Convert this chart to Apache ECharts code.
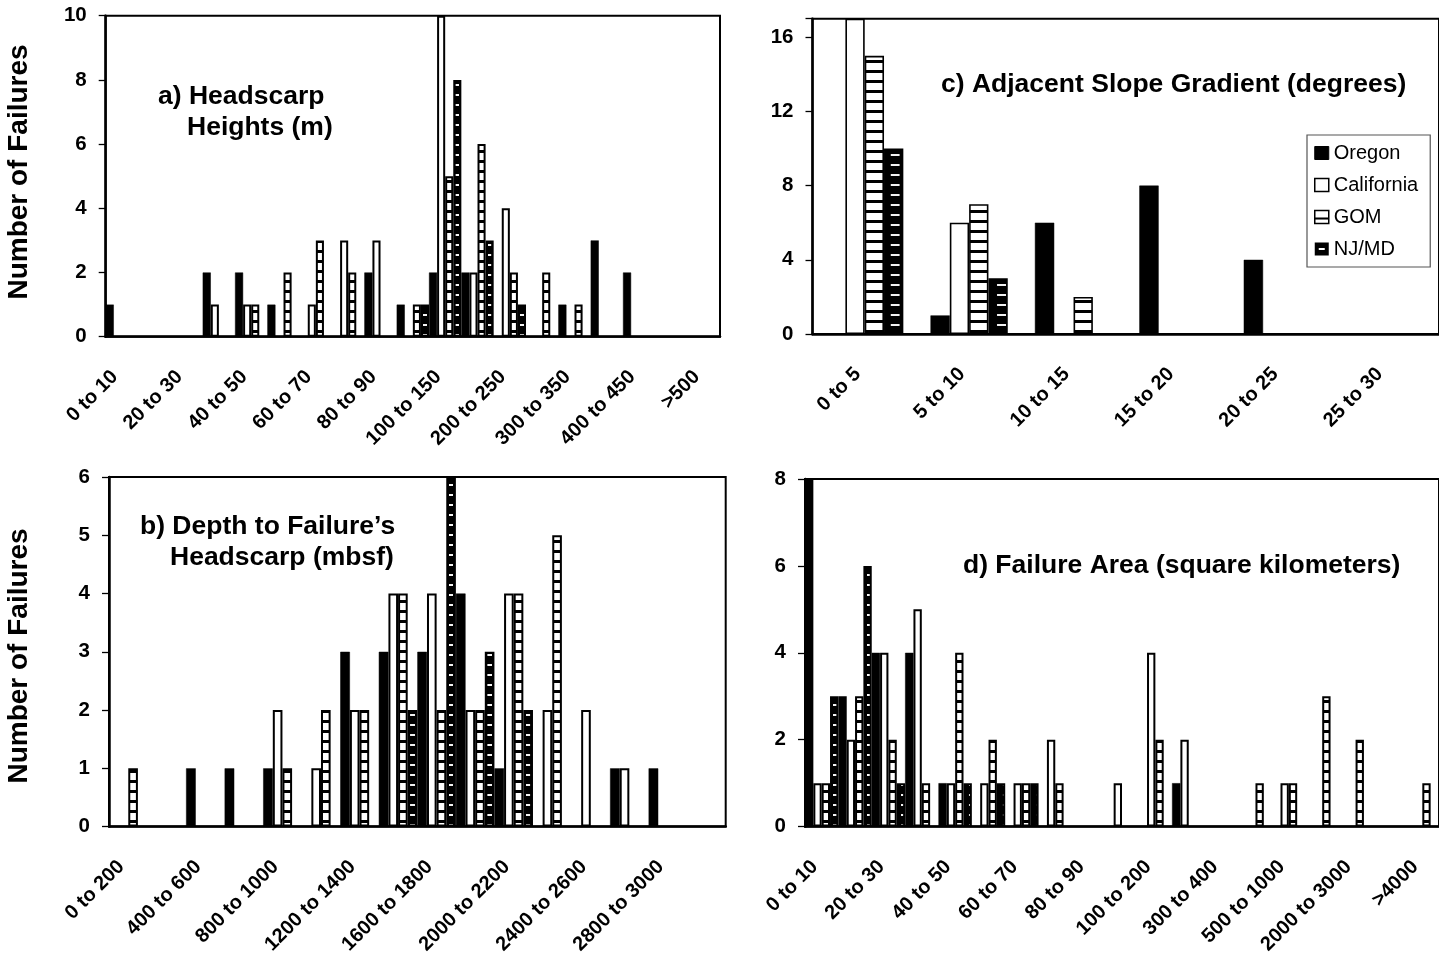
<!DOCTYPE html>
<html>
<head>
<meta charset="utf-8">
<title>Submarine failure statistics</title>
<script src="https://cdn.jsdelivr.net/npm/echarts@6/dist/echarts.min.js"></script>
<style>
    html, body { margin: 0; padding: 0; background: #fff; }
    #main { width: 1439px; height: 957px; }
</style>
</head>
<body>
<div id="main"></div>
<script>
// ---- values ----
var regions = ['Oregon', 'California', 'GOM', 'NJ/MD'];

// a) headscarp heights (m)
var heightCats = ['0 to 10', '10 to 20', '20 to 30', '30 to 40', '40 to 50', '50 to 60', '60 to 70',
    '70 to 80', '80 to 90', '90 to 100', '100 to 150', '150 to 200', '200 to 250', '250 to 300',
    '300 to 350', '350 to 400', '400 to 450', '450 to 500', '>500'];
var heightOregon     = [1, 0, 0, 2, 2, 1, 0, 0, 2, 1, 2, 2, 0, 0, 1, 3, 2, 0, 0];
var heightCalifornia = [0, 0, 0, 1, 1, 0, 1, 3, 3, 0, 10, 2, 4, 0, 0, 0, 0, 0, 0];
var heightGOM        = [0, 0, 0, 0, 1, 2, 3, 2, 0, 1, 5, 6, 2, 2, 1, 0, 0, 0, 0];
var heightNJMD       = [0, 0, 0, 0, 0, 0, 0, 0, 0, 1, 8, 3, 1, 0, 0, 0, 0, 0, 0];

// b) depth to failure's headscarp (mbsf)
var depthCats = ['0 to 200', '200 to 400', '400 to 600', '600 to 800', '800 to 1000', '1000 to 1200',
    '1200 to 1400', '1400 to 1600', '1600 to 1800', '1800 to 2000', '2000 to 2200', '2200 to 2400',
    '2400 to 2600', '2600 to 2800', '2800 to 3000', '>3000'];
var depthOregon     = [0, 0, 1, 1, 1, 0, 3, 3, 3, 4, 1, 0, 0, 1, 1, 0];
var depthCalifornia = [0, 0, 0, 0, 2, 1, 2, 4, 4, 2, 4, 2, 2, 1, 0, 0];
var depthGOM        = [1, 0, 0, 0, 1, 2, 2, 4, 2, 2, 4, 5, 0, 0, 0, 0];
var depthNJMD       = [0, 0, 0, 0, 0, 0, 0, 2, 6, 3, 2, 0, 0, 0, 0, 0];

// c) adjacent slope gradient (degrees)
var slopeCats = ['0 to 5', '5 to 10', '10 to 15', '15 to 20', '20 to 25', '25 to 30'];
var slopeOregon     = [0, 1, 6, 8, 4, 0];
var slopeCalifornia = [17, 6, 0, 0, 0, 0];
var slopeGOM        = [15, 7, 2, 0, 0, 0];
var slopeNJMD       = [10, 3, 0, 0, 0, 0];

// d) failure area (square kilometers)
var areaCats = ['0 to 10', '10 to 20', '20 to 30', '30 to 40', '40 to 50', '50 to 60', '60 to 70',
    '70 to 80', '80 to 90', '90 to 100', '100 to 200', '200 to 300', '300 to 400', '400 to 500',
    '500 to 1000', '1000 to 2000', '2000 to 3000', '3000 to 4000', '>4000'];
var areaOregon     = [8, 3, 4, 4, 1, 0, 0, 0, 0, 0, 0, 1, 0, 0, 0, 0, 0, 0, 0];
var areaCalifornia = [1, 2, 4, 5, 1, 1, 1, 2, 0, 1, 4, 2, 0, 0, 1, 0, 0, 0, 0];
var areaGOM        = [1, 3, 2, 1, 4, 2, 1, 1, 0, 0, 2, 0, 0, 1, 1, 3, 2, 0, 1];
var areaNJMD       = [3, 6, 1, 0, 1, 1, 1, 0, 0, 0, 0, 0, 0, 0, 0, 0, 0, 0, 0];

var yName = 'Number of Failures';

// ---- layout of the four panels (pixels) ----
var FONT = '"Liberation Sans", Arial, Helvetica, sans-serif';
var panels = [
    { cats: heightCats, vals: [heightOregon, heightCalifornia, heightGOM, heightNJMD],
      left: 105.7, top: 15.7, width: 614.3, height: 321, max: 10, step: 2, gap: 0, every: 1, border: 2 },
    { cats: depthCats, vals: [depthOregon, depthCalifornia, depthGOM, depthNJMD],
      left: 109, top: 477, width: 616.7, height: 352, max: 6, step: 1, gap: 0, every: 1, border: 2 },
    { cats: slopeCats, vals: [slopeOregon, slopeCalifornia, slopeGOM, slopeNJMD],
      left: 812.5, top: 18.7, width: 638, height: 315.3, max: 17, step: 4, gap: 0.26, every: 0, border: 1.6 },
    { cats: areaCats, vals: [areaOregon, areaCalifornia, areaGOM, areaNJMD],
      left: 805, top: 479, width: 645.4, height: 348.7, max: 8, step: 2, gap: 0, every: 1, border: 2 }
];

var titles = [
    { text: 'a) Headscarp', x: 158, y: 97 },
    { text: 'Heights (m)', x: 187, y: 128 },
    { text: 'b) Depth to Failure\u2019s', x: 140, y: 527 },
    { text: 'Headscarp (mbsf)', x: 170, y: 558 },
    { text: 'c) Adjacent Slope Gradient (degrees)', x: 941, y: 85 },
    { text: 'd) Failure Area (square kilometers)', x: 963, y: 566 }
];

// ---- fills ----
function canvasOf(w, h) {
    var c = document.createElement('canvas');
    c.width = w; c.height = h;
    return c;
}
// GOM: white with black horizontal rules
function gomFill() {
    var c = canvasOf(10, 10), g = c.getContext('2d');
    g.fillStyle = '#fff'; g.fillRect(0, 0, 10, 10);
    g.fillStyle = '#000'; g.fillRect(0, 0, 10, 3);
    return { image: c, repeat: 'repeat' };
}
// NJ/MD: black with short white dashes, tile stretched to one category so the dash sits mid-bar
function njFill(p) {
    var cw = p.width / p.cats.length;
    var bw = cw * (1 - p.gap) / 4;
    var W = 200, c = canvasOf(W, 10), g = c.getContext('2d');
    var d = (bw * 0.45) / cw * W;
    g.fillStyle = '#000'; g.fillRect(0, 0, W, 10);
    g.fillStyle = '#f2f2f2'; g.fillRect(W / 2 - d / 2, 4, d, 2);
    var centre = p.left + cw * p.gap / 2 + 3.5 * bw;
    return { image: c, repeat: 'repeat', x: centre - cw / 2, y: 0, scaleX: cw / W, scaleY: 1 };
}
// legend swatch for GOM (pattern coords are local to the legend item)
function legendGom() {
    var c = canvasOf(14, 13), g = c.getContext('2d');
    g.fillStyle = '#fff'; g.fillRect(0, 0, 14, 13);
    g.fillStyle = '#000'; g.fillRect(0, 3.5, 14, 2);
    return { image: c, repeat: 'repeat', x: 0, y: 3.5 };
}
// NJ/MD swatch: black square with a dash cut out of the middle
var njIcon = 'path://M0,0L14,0L14,13L0,13Z M4,5.5L4,7.5L10,7.5L10,5.5Z';

var chart = echarts.init(document.getElementById('main'), null, { renderer: 'canvas' });

var grids = [], xAxes = [], yAxes = [], series = [];
panels.forEach(function (p, i) {
    grids.push({ left: p.left, top: p.top, width: p.width, height: p.height,
        show: true, borderColor: '#000', borderWidth: 2, backgroundColor: 'transparent' });
    xAxes.push({
        gridIndex: i, type: 'category', data: p.cats,
        axisLine: { lineStyle: { color: '#000', width: 2.5 } },
        axisTick: { interval: 0, length: 6, lineStyle: { color: '#000', width: 1.3 } },
        axisLabel: { interval: p.every, rotate: 45, margin: 30, padding: [0, 10, 5, 0], color: '#000',
            fontFamily: FONT, fontSize: 20, fontWeight: 'bold' },
        splitLine: { show: false }
    });
    yAxes.push({
        gridIndex: i, type: 'value', min: 0, max: p.max, interval: p.step,
        axisLine: { show: true, lineStyle: { color: '#000', width: 2.5 } },
        axisTick: { show: true, length: 7, lineStyle: { color: '#000', width: 1.3 } },
        axisLabel: { margin: 19, color: '#000', fontFamily: FONT, fontSize: 20.5, fontWeight: 'bold',
            formatter: function (v) { return v % p.step === 0 ? String(v) : ''; } },
        splitLine: { show: false }
    });
    var fills = ['#000', '#fff', gomFill(), njFill(p)];
    regions.forEach(function (name, r) {
        series.push({
            type: 'bar', name: name, xAxisIndex: i, yAxisIndex: i,
            data: p.vals[r].map(function (v) { return v === 0 ? '-' : v; }),
            barGap: '0%', barCategoryGap: (p.gap * 100) + '%',
            itemStyle: { color: fills[r], borderColor: '#000', borderWidth: r === 0 ? 0.5 : p.border },
            emphasis: { disabled: true }, silent: true
        });
    });
});

var graphics = titles.map(function (t) {
    return { type: 'text', x: t.x, y: t.y, silent: true,
        style: { text: t.text, fill: '#000', font: 'bold 26.5px ' + FONT,
            textAlign: 'left', align: 'left', textVerticalAlign: 'middle', verticalAlign: 'middle' } };
});
[172, 656].forEach(function (cy) {
    graphics.push({ type: 'text', x: 19, y: cy, rotation: Math.PI / 2, silent: true,
        style: { text: yName, fill: '#000', font: 'bold 28px ' + FONT,
            textAlign: 'center', align: 'center', textVerticalAlign: 'middle', verticalAlign: 'middle' } });
});

chart.setOption({
    animation: false,
    backgroundColor: '#fff',
    grid: grids,
    xAxis: xAxes,
    yAxis: yAxes,
    series: series,
    graphic: graphics,
    legend: {
        orient: 'vertical', left: 1307, top: 135, padding: [8, 12, 8, 7],
        itemWidth: 14, itemHeight: 13, itemGap: 12, selectedMode: false,
        borderColor: '#555', borderWidth: 1.2, backgroundColor: '#fff',
        textStyle: { fontFamily: FONT, fontSize: 20, lineHeight: 20, color: '#000' },
        data: [
            { name: 'Oregon', icon: 'rect', itemStyle: { color: '#000', borderColor: '#000', borderWidth: 1 } },
            { name: 'California', icon: 'rect', itemStyle: { color: '#fff', borderColor: '#000', borderWidth: 1.5 } },
            { name: 'GOM', icon: 'rect', itemStyle: { color: legendGom(), borderColor: '#000', borderWidth: 1.5 } },
            { name: 'NJ/MD', icon: njIcon, itemStyle: { color: '#000', borderWidth: 0 } }
        ]
    }
});
</script>
</body>
</html>
